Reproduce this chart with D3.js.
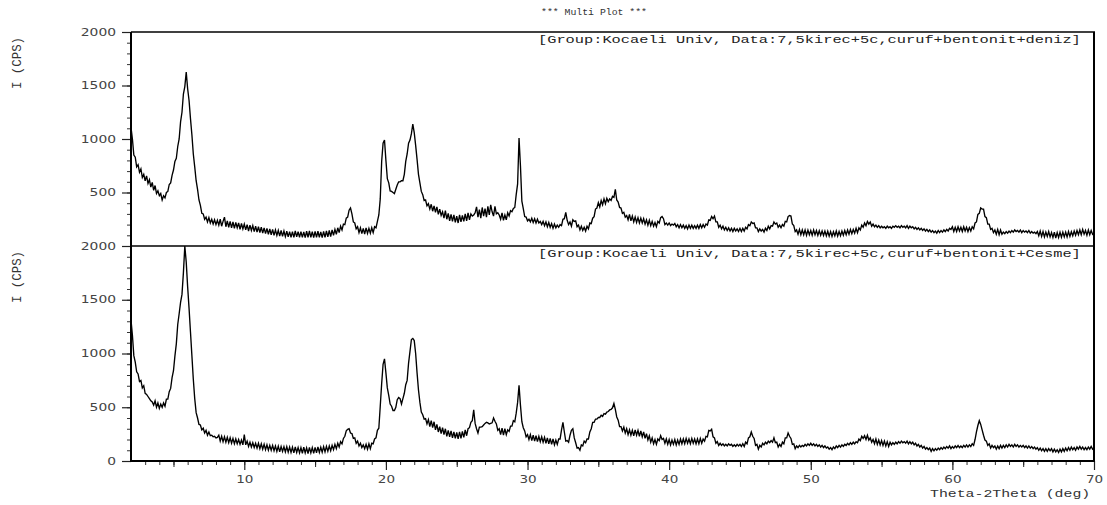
<!DOCTYPE html>
<html>
<head>
<meta charset="utf-8">
<script src="https://cdn.jsdelivr.net/npm/d3@7"></script>
<style>
  html, body { margin: 0; padding: 0; background: #fff; }
  svg { display: block; }
</style>
</head>
<body>
<svg id="chart" width="1107" height="505"></svg>
<script>
// ---------------- DATA ----------------
// 2-theta grid: 2.0 .. 70.0 deg, step 0.1 (one row below = one degree)
const thetaStart = 2.0, thetaStep = 0.1, thetaEnd = 70.0;

// Upper pattern: 7,5kirec+5c,curuf+bentonit+deniz  (counts per second)
const intensityDeniz = [
 1110, 1000, 850, 830, 740, 760, 690, 720, 640, 670,   // 2
 610, 655, 585, 620, 550, 595, 520, 565, 490, 515,     // 3
 470, 490, 430, 470, 450, 500, 510, 575, 590, 660,     // 4
 710, 790, 820, 930, 1000, 1160, 1250, 1420, 1490, 1625, // 5
 1470, 1360, 1190, 1040, 860, 740, 610, 530, 430, 380, // 6
 305, 300, 250, 270, 225, 265, 215, 250, 205, 245,     // 7
 200, 240, 195, 250, 185, 230, 270, 180, 235, 175,     // 8
 230, 170, 225, 165, 220, 170, 215, 155, 210, 160,     // 9
 205, 150, 200, 140, 195, 145, 190, 135, 185, 130,     // 10
 180, 125, 175, 120, 170, 115, 165, 110, 160, 105,     // 11
 155, 100, 150, 98, 145, 92, 145, 90, 140, 88,         // 12
 138, 85, 135, 80, 135, 80, 140, 85, 135, 82,          // 13
 135, 80, 132, 78, 138, 82, 140, 80, 134, 78,          // 14
 136, 80, 138, 82, 132, 78, 136, 80, 140, 85,          // 15
 145, 88, 150, 100, 155, 110, 170, 125, 185, 150,      // 16
 205, 200, 260, 270, 335, 355, 300, 225, 215, 160,     // 17
 180, 125, 170, 115, 165, 112, 170, 118, 165, 120,     // 18
 170, 125, 180, 170, 230, 290, 440, 790, 960, 990,     // 19
 800, 630, 590, 515, 510, 500, 490, 530, 570, 600,     // 20
 600, 610, 610, 670, 790, 860, 960, 990, 1050, 1140,   // 21
 1060, 940, 810, 670, 590, 510, 480, 425, 430, 375,    // 22
 395, 345, 390, 325, 375, 315, 365, 295, 345, 285,     // 23
 320, 260, 330, 250, 305, 235, 295, 230, 290, 220,     // 24
 280, 215, 290, 225, 285, 230, 300, 235, 310, 245,     // 25
 300, 280, 290, 310, 365, 270, 340, 260, 360, 280,     // 26
 350, 270, 370, 290, 385, 320, 280, 370, 300, 310,     // 27
 290, 250, 310, 240, 290, 245, 310, 280, 330, 320,     // 28
 350, 360, 480, 580, 1010, 750, 420, 350, 275, 270,    // 29
 235, 250, 225, 260, 220, 255, 215, 250, 215, 230,     // 30
 200, 230, 190, 225, 180, 220, 175, 210, 165, 205,     // 31
 170, 195, 175, 200, 190, 250, 255, 315, 240, 200,     // 32
 225, 185, 245, 230, 235, 180, 195, 150, 185, 145,     // 33
 175, 140, 185, 160, 215, 210, 260, 275, 345, 355,     // 34
 405, 365, 425, 385, 440, 395, 445, 415, 440, 425,     // 35
 465, 455, 530, 430, 410, 360, 355, 305, 315, 270,     // 36
 285, 245, 295, 235, 280, 225, 270, 220, 265, 215,     // 37
 260, 215, 255, 205, 245, 195, 240, 190, 230, 185,     // 38
 220, 180, 230, 215, 265, 275, 255, 200, 215, 195,     // 39
 215, 190, 205, 195, 210, 180, 200, 170, 200, 170,     // 40
 195, 165, 190, 160, 195, 165, 195, 165, 190, 165,     // 41
 195, 165, 200, 170, 200, 175, 205, 195, 245, 240,     // 42
 275, 255, 280, 225, 225, 175, 195, 160, 185, 150,     // 43
 175, 145, 170, 140, 165, 135, 165, 140, 160, 135,     // 44
 165, 135, 165, 140, 175, 160, 200, 190, 225, 210,     // 45
 215, 170, 170, 135, 160, 140, 155, 130, 165, 145,     // 46
 185, 160, 190, 185, 225, 205, 215, 175, 195, 170,     // 47
 200, 185, 230, 225, 275, 285, 280, 205, 190, 135,     // 48
 150, 110, 155, 105, 150, 105, 150, 100, 148, 105,     // 49
 145, 100, 150, 105, 145, 100, 143, 100, 140, 98,      // 50
 140, 95, 138, 92, 135, 90, 133, 95, 140, 92,          // 51
 135, 95, 140, 100, 145, 105, 150, 110, 155, 115,      // 52
 155, 120, 165, 125, 170, 150, 195, 175, 215, 190,     // 53
 230, 205, 225, 185, 205, 180, 195, 175, 190, 170,     // 54
 185, 170, 180, 165, 185, 170, 180, 165, 185, 175,     // 55
 190, 175, 185, 170, 190, 175, 185, 170, 190, 165,     // 56
 185, 170, 180, 160, 175, 155, 170, 150, 165, 145,     // 57
 160, 140, 155, 135, 150, 130, 145, 125, 140, 120,     // 58
 145, 125, 145, 130, 150, 135, 155, 140, 165, 155,     // 59
 180, 135, 175, 135, 180, 140, 175, 135, 180, 140,     // 60
 175, 135, 172, 140, 180, 160, 215, 225, 295, 305,     // 61
 355, 345, 345, 275, 265, 205, 205, 155, 165, 125,     // 62
 150, 110, 155, 105, 150, 110, 130, 115, 135, 120,     // 63
 140, 125, 145, 130, 150, 135, 145, 130, 150, 125,     // 64
 145, 130, 140, 125, 145, 120, 135, 120, 130, 115,     // 65
 135, 95, 140, 90, 135, 85, 130, 90, 135, 85,          // 66
 125, 80, 130, 75, 125, 80, 128, 82, 130, 85,          // 67
 130, 85, 135, 90, 133, 95, 140, 100, 145, 105,        // 68
 150, 105, 155, 110, 145, 100, 150, 105, 145, 110,     // 69
 125                                                   // 70
];

// Lower pattern: 7,5kirec+5c,curuf+bentonit+Cesme
const intensityCesme = [
 1310, 1170, 980, 920, 830, 810, 740, 750, 680, 700,   // 2
 630, 620, 600, 580, 560, 550, 520, 560, 500, 540,     // 3
 490, 530, 500, 540, 510, 575, 575, 645, 675, 775,     // 4
 840, 975, 1090, 1270, 1370, 1475, 1550, 1750, 2000, 1850, // 5
 1620, 1420, 1200, 980, 760, 580, 450, 400, 340, 335,  // 6
 290, 305, 260, 285, 240, 270, 235, 240, 225, 230,     // 7
 215, 220, 240, 185, 230, 180, 225, 175, 220, 170,     // 8
 215, 165, 210, 160, 205, 160, 200, 155, 195, 150,     // 9
 245, 150, 185, 135, 175, 130, 170, 125, 165, 120,     // 10
 165, 115, 160, 110, 155, 105, 150, 100, 145, 100,     // 11
 145, 95, 140, 90, 138, 85, 135, 90, 133, 85,          // 12
 133, 82, 130, 80, 128, 76, 130, 80, 126, 75,          // 13
 124, 72, 128, 75, 122, 70, 126, 76, 124, 72,          // 14
 126, 75, 130, 80, 128, 82, 134, 85, 136, 90,          // 15
 140, 95, 145, 105, 155, 115, 165, 130, 180, 160,      // 16
 210, 230, 280, 295, 300, 260, 255, 210, 215, 165,     // 17
 185, 140, 165, 125, 150, 115, 155, 110, 160, 115,     // 18
 165, 160, 205, 215, 285, 305, 510, 720, 900, 950,     // 19
 820, 680, 610, 530, 510, 470, 470, 500, 570, 590,     // 20
 580, 530, 580, 630, 710, 750, 910, 1020, 1130, 1140,  // 21
 1120, 1000, 820, 660, 545, 455, 430, 390, 395, 345,   // 22
 385, 320, 375, 310, 365, 290, 340, 270, 320, 255,     // 23
 310, 245, 300, 230, 285, 225, 280, 215, 270, 210,     // 24
 265, 205, 270, 210, 275, 220, 290, 235, 300, 310,     // 25
 360, 375, 475, 350, 300, 260, 315, 315, 320, 335,     // 26
 350, 360, 355, 345, 350, 355, 400, 370, 345, 285,     // 27
 300, 245, 305, 240, 300, 245, 290, 275, 325, 325,     // 28
 375, 365, 445, 545, 705, 520, 365, 310, 280, 225,     // 29
 245, 200, 245, 190, 240, 185, 235, 180, 230, 180,     // 30
 225, 175, 220, 165, 215, 160, 210, 155, 205, 150,     // 31
 195, 155, 205, 205, 290, 360, 270, 185, 190, 175,     // 32
 240, 285, 300, 215, 170, 120, 125, 100, 150, 140,     // 33
 185, 170, 205, 205, 270, 300, 360, 360, 390, 390,     // 34
 405, 405, 425, 415, 440, 435, 455, 460, 475, 480,     // 35
 495, 535, 480, 410, 380, 320, 320, 280, 315, 260,     // 36
 300, 245, 290, 240, 285, 235, 290, 240, 285, 230,     // 37
 280, 225, 270, 210, 255, 195, 235, 175, 215, 160,     // 38
 200, 155, 205, 190, 235, 200, 210, 165, 205, 155,     // 39
 200, 150, 195, 155, 200, 150, 195, 155, 205, 160,     // 40
 205, 160, 210, 165, 205, 160, 210, 165, 205, 160,     // 41
 205, 160, 210, 165, 205, 185, 230, 225, 285, 280,     // 42
 295, 225, 215, 165, 180, 145, 165, 145, 160, 140,     // 43
 155, 140, 160, 145, 155, 135, 150, 135, 155, 140,     // 44
 155, 135, 160, 135, 175, 160, 215, 225, 270, 230,     // 45
 210, 145, 155, 110, 145, 130, 165, 150, 175, 160,     // 46
 185, 170, 190, 175, 215, 170, 175, 130, 155, 135,     // 47
 175, 160, 215, 215, 260, 230, 210, 155, 160, 115,     // 48
 140, 125, 145, 130, 145, 135, 155, 140, 160, 145,     // 49
 165, 145, 160, 140, 155, 135, 150, 130, 145, 125,     // 50
 140, 120, 130, 110, 125, 105, 130, 115, 140, 125,     // 51
 145, 130, 150, 135, 155, 145, 165, 150, 170, 155,     // 52
 175, 160, 180, 170, 205, 190, 230, 210, 235, 200,     // 53
 240, 195, 215, 175, 200, 160, 205, 155, 195, 150,     // 54
 190, 145, 185, 140, 180, 135, 175, 150, 170, 155,     // 55
 175, 160, 180, 165, 185, 170, 180, 165, 185, 160,     // 56
 180, 160, 175, 150, 165, 140, 155, 130, 145, 120,     // 57
 135, 110, 125, 105, 120, 90, 115, 95, 115, 100,       // 58
 120, 105, 125, 110, 130, 115, 135, 120, 140, 115,     // 59
 135, 120, 140, 125, 145, 125, 140, 125, 145, 130,     // 60
 150, 130, 150, 135, 160, 145, 200, 270, 330, 375,     // 61
 340, 290, 240, 195, 185, 145, 160, 120, 145, 125,     // 62
 140, 110, 140, 115, 145, 120, 145, 125, 150, 130,     // 63
 155, 135, 150, 130, 155, 135, 150, 130, 145, 130,     // 64
 145, 125, 140, 120, 140, 120, 135, 115, 130, 110,     // 65
 125, 100, 120, 95, 115, 90, 115, 90, 115, 95,         // 66
 115, 85, 110, 85, 105, 80, 110, 85, 115, 90,          // 67
 120, 95, 125, 100, 130, 105, 125, 100, 130, 110,      // 68
 135, 110, 130, 105, 125, 105, 130, 110, 135, 110,     // 69
 120                                                   // 70
];

const yMajorTicks = [0, 500, 1000, 1500, 2000];
const xMajorTicks = [10, 20, 30, 40, 50, 60, 70];
const titleText = "***  Multi Plot  ***";
const yLabel = "I (CPS)";
const xLabel = "Theta-2Theta (deg)";
const panelLabels = [
  "[Group:Kocaeli Univ, Data:7,5kirec+5c,curuf+bentonit+deniz]",
  "[Group:Kocaeli Univ, Data:7,5kirec+5c,curuf+bentonit+Cesme]"
];

// ---------------- LAYOUT ----------------
const W = 1107, H = 505;
const L = 131, R = 1094;
const panelTops = [32, 246], panelBottoms = [246, 461];
const mono = "'Liberation Mono', 'Courier New', monospace";
const sans = "'DejaVu Sans', Verdana, sans-serif";

const svg = d3.select("#chart");
svg.append("rect").attr("width", W).attr("height", H).attr("fill", "#fff");

const theta = d3.range(0, intensityDeniz.length).map(i => +(thetaStart + i * thetaStep).toFixed(1));
const x = d3.scaleLinear().domain([thetaStart, thetaEnd]).range([L, R]);

function stretchText(sel, pxPerChar) {
  sel.each(function() {
    const t = d3.select(this);
    const n = t.text().length;
    t.attr("textLength", n * pxPerChar).attr("lengthAdjust", "spacingAndGlyphs");
  });
}

const series = [intensityDeniz, intensityCesme];

series.forEach((vals, p) => {
  const y = d3.scaleLinear().domain([0, 2000]).range([panelBottoms[p], panelTops[p]]);
  const g = svg.append("g");

  const cid = "clip" + p;
  svg.append("clipPath").attr("id", cid).append("rect")
    .attr("x", L).attr("y", panelTops[p] - 1).attr("width", R - L).attr("height", panelBottoms[p] - panelTops[p] + 1);

  const line = d3.line().x((d, i) => x(theta[i])).y(d => y(d));
  g.append("path").datum(vals)
    .attr("clip-path", `url(#${cid})`)
    .attr("fill", "none").attr("stroke", "#000").attr("stroke-width", 1.35)
    .attr("d", line);

  // y minor ticks
  const yMinor = d3.axisLeft(y).tickValues(d3.range(0, 2001, 100)).tickSize(4).tickFormat("");
  const gm = g.append("g").attr("transform", `translate(${L},0)`).call(yMinor);
  gm.select(".domain").remove();
  gm.selectAll("line").attr("stroke", "#333");

  // y major ticks + labels
  const labelTicks = p === 0 ? yMajorTicks.filter(v => v > 0) : yMajorTicks;
  const yMajor = d3.axisLeft(y).tickValues(labelTicks).tickSize(9).tickPadding(6).tickFormat(d3.format("d"));
  const gM = g.append("g").attr("transform", `translate(${L},0)`).call(yMajor);
  gM.select(".domain").remove();
  gM.selectAll("line").attr("stroke", "#222").attr("stroke-width", 1.2);
  gM.selectAll("text").attr("font-family", sans).attr("font-size", 10).attr("fill", "#444");
  stretchText(gM.selectAll("text"), 8.8);

  // frame
  g.append("line").attr("x1", L).attr("x2", L).attr("y1", panelTops[p]).attr("y2", panelBottoms[p])
    .attr("stroke", "#000").attr("stroke-width", 2);
  g.append("line").attr("x1", R).attr("x2", R).attr("y1", panelTops[p]).attr("y2", panelBottoms[p])
    .attr("stroke", "#000").attr("stroke-width", 2);
  g.append("line").attr("x1", L).attr("x2", R + 1).attr("y1", panelTops[p]).attr("y2", panelTops[p])
    .attr("stroke", "#000").attr("stroke-width", 1.6);

  // panel annotation
  const ann = g.append("text").attr("x", 538).attr("y", panelTops[p] + 11)
    .attr("font-family", mono).attr("font-size", 11).attr("fill", "#222")
    .text(panelLabels[p]);
  stretchText(ann, 9.2);

  // y title
  const yt = g.append("text")
    .attr("transform", `translate(21,${panelTops[p] + 31}) rotate(-90)`)
    .attr("text-anchor", "middle")
    .attr("font-family", mono).attr("font-size", 12).attr("fill", "#333")
    .text(yLabel);
  yt.attr("textLength", 52).attr("lengthAdjust", "spacingAndGlyphs");
});

// bottom x axis
const yb = panelBottoms[1];
const gx = svg.append("g").attr("transform", `translate(0,${yb})`);
const xMinor = d3.axisBottom(x).tickValues(d3.range(3, 70, 1)).tickSize(4).tickFormat("");
const gxm = gx.append("g").call(xMinor);
gxm.select(".domain").remove();
gxm.selectAll("line").attr("stroke", "#333");
const xMid = d3.axisBottom(x).tickValues(d3.range(5, 70, 10)).tickSize(6).tickFormat("");
const gxd = gx.append("g").call(xMid);
gxd.select(".domain").remove();
gxd.selectAll("line").attr("stroke", "#222");
const xMajor = d3.axisBottom(x).tickValues(xMajorTicks).tickSize(9).tickPadding(6).tickFormat(d3.format("d"));
const gxM = gx.append("g").call(xMajor);
gxM.select(".domain").remove();
gxM.selectAll("line").attr("stroke", "#222").attr("stroke-width", 1.2);
gxM.selectAll("text").attr("font-family", sans).attr("font-size", 10).attr("fill", "#444");
stretchText(gxM.selectAll("text"), 8.6);
svg.append("line").attr("x1", L - 1).attr("x2", R + 1).attr("y1", yb).attr("y2", yb)
  .attr("stroke", "#000").attr("stroke-width", 2);

// x title
const xt = svg.append("text").attr("x", 930).attr("y", 497)
  .attr("font-family", mono).attr("font-size", 11).attr("fill", "#333").text(xLabel);
stretchText(xt, 8.9);

// main title
const tt = svg.append("text").attr("x", 541).attr("y", 15)
  .attr("font-family", mono).attr("font-size", 8.5).attr("fill", "#333").text(titleText);
stretchText(tt, 5.3);
</script>
</body>
</html>
